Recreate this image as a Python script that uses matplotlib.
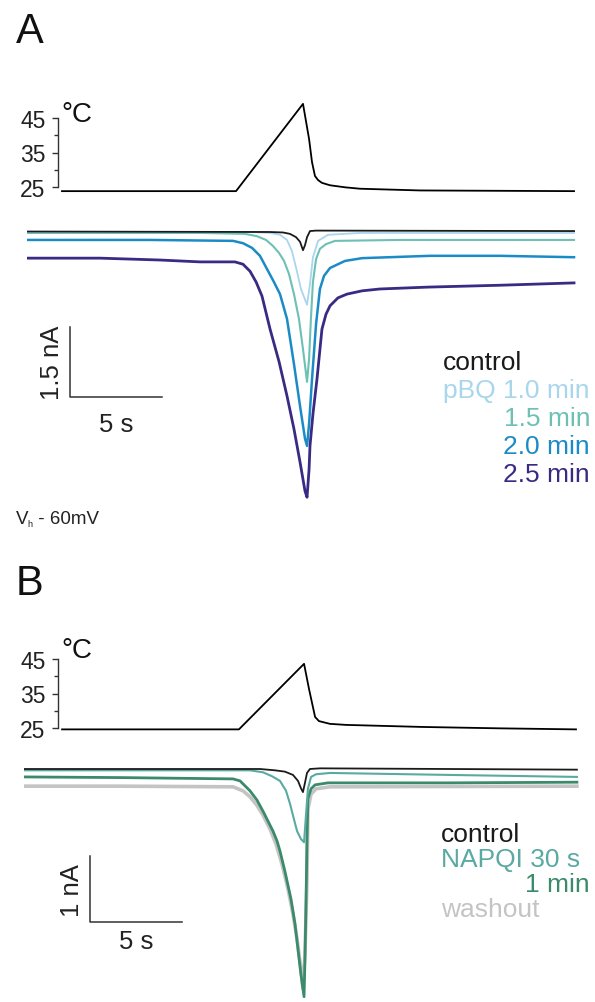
import matplotlib.pyplot as plt

plt.rcParams['font.family'] = ['Liberation Sans', 'DejaVu Sans']

W, H = 595, 1003

# ---- panel A data (time in s, temperature in degC, current in nA) ----
tempA_t = [1.90, 11.36, 15.00, 15.33, 15.49, 15.65, 15.82, 16.03, 16.47, 17.30, 18.10, 21.36, 29.73]
tempA_T = [23.8, 23.8, 49.1, 38.9, 32.2, 28.2, 27.0, 26.2, 25.5, 24.9, 24.5, 24.0, 23.8]

ctrlA_t = [0, 13.21, 13.91, 14.29, 14.62, 14.84, 15.00, 15.11, 15.22, 15.38, 15.71, 29.73]
ctrlA_i = [0.01, 0, -0.01, -0.04, -0.11, -0.21, -0.39, -0.28, -0.11, 0.02, 0.03, 0.02]

pbq10_t = [0, 12.12, 13.21, 13.75, 14.13, 14.40, 14.67, 14.89, 15.22, 15.38, 15.54, 15.82, 16.36, 18.10, 29.73]
pbq10_i = [0, 0, -0.02, -0.06, -0.17, -0.41, -0.84, -1.22, -1.56, -1.11, -0.54, -0.19, -0.06, -0.02, -0.02]

pbq15_t = [0, 9.40, 11.85, 12.50, 12.99, 13.37, 13.70, 13.97, 14.24, 14.51, 14.78, 15.00, 15.22,
           15.33, 15.43, 15.54, 15.71, 15.92, 16.25, 16.74, 20.27, 29.73]
pbq15_i = [-0.02, -0.02, -0.04, -0.09, -0.17, -0.30, -0.45, -0.62, -0.90, -1.33, -1.86, -2.51, -3.21,
           -2.72, -1.86, -1.07, -0.58, -0.36, -0.26, -0.19, -0.17, -0.17]

pbq20_t = [0, 6.68, 11.20, 11.74, 12.23, 12.66, 13.04, 13.42, 13.75, 14.13, 14.51, 14.84, 15.11, 15.22,
           15.33, 15.49, 15.71, 15.92, 16.14, 16.47, 17.28, 18.21, 21.90, 25.71, 29.73]
pbq20_i = [-0.17, -0.17, -0.19, -0.24, -0.34, -0.51, -0.79, -1.07, -1.33, -1.86, -2.83, -3.73, -4.43, -4.58,
           -4.11, -3.15, -1.97, -1.22, -0.94, -0.77, -0.62, -0.56, -0.51, -0.51, -0.54]

pbq25_t = [0, 3.97, 7.23, 9.40, 11.30, 11.74, 12.12, 12.45, 12.77, 13.21, 13.70, 14.13, 14.51, 14.84, 15.11,
           15.22, 15.33, 15.38, 15.54, 15.76, 16.03, 16.25, 16.47, 16.90, 17.39, 18.21, 19.18, 21.79, 25.71, 29.73]
pbq25_i = [-0.56, -0.56, -0.60, -0.64, -0.64, -0.69, -0.84, -1.07, -1.37, -2.08, -2.78, -3.51, -4.22, -4.93, -5.55,
           -5.68, -5.08, -4.58, -3.90, -3.15, -2.08, -1.76, -1.58, -1.41, -1.33, -1.26, -1.22, -1.18, -1.14, -1.09]

labelsA = ['control', 'pBQ 1.0 min', '1.5 min', '2.0 min', '2.5 min']
colorsA = ['#1a1a1a', '#a8d6ec', '#6cc0b4', '#1b8bc6', '#3a2a84']

# ---- panel B data ----
tempB_t = [2.07, 11.68, 15.22, 15.49, 15.82, 16.03, 16.63, 17.50, 21.68, 25.87, 30.00]
tempB_T = [24.6, 24.6, 43.6, 36.3, 28.2, 27.0, 26.2, 25.9, 25.3, 24.9, 24.6]

ctrlB_t = [0, 12.83, 13.64, 14.18, 14.62, 14.89, 15.05, 15.16, 15.27, 15.38, 15.54, 16.09, 30.05]
ctrlB_i = [0, 0, -0.02, -0.04, -0.09, -0.18, -0.29, -0.35, -0.21, -0.06, 0, 0.01, -0.01]

napqi30_t = [0, 12.28, 12.99, 13.48, 13.91, 14.24, 14.46, 14.67, 14.84, 15.05, 15.22, 15.33, 15.43,
             15.60, 15.87, 16.63, 23.15, 30.05]
napqi30_i = [-0.02, -0.02, -0.05, -0.11, -0.18, -0.33, -0.53, -0.76, -0.94, -1.06, -1.11, -0.68, -0.30,
             -0.12, -0.08, -0.06, -0.09, -0.12]

napqi1_t = [0, 5.22, 11.36, 11.74, 12.28, 12.66, 12.99, 13.26, 13.53, 13.75, 13.91, 14.18, 14.51, 14.73,
            14.89, 15.05, 15.22, 15.27, 15.33, 15.38, 15.43, 15.60, 15.82, 16.52, 23.15, 30.05]
napqi1_i = [-0.12, -0.13, -0.15, -0.18, -0.33, -0.47, -0.64, -0.79, -0.94, -1.09, -1.24, -1.55, -1.97, -2.35,
            -2.73, -3.11, -3.45, -2.88, -1.97, -1.06, -0.45, -0.30, -0.24, -0.21, -0.21, -0.20]

wash_t = [0, 5.22, 11.36, 11.90, 12.28, 12.66, 12.99, 13.37, 13.70, 14.02, 14.35, 14.62, 14.84, 15.05,
          15.16, 15.27, 15.38, 15.43, 15.60, 15.87, 16.63, 30.05]
wash_i = [-0.26, -0.26, -0.27, -0.33, -0.42, -0.55, -0.70, -0.91, -1.14, -1.44, -1.82, -2.20, -2.58, -3.03,
          -3.33, -2.80, -1.67, -0.61, -0.38, -0.30, -0.27, -0.26]

labelsB = ['control', 'NAPQI 30 s', '1 min', 'washout']
colorsB = ['#1a1a1a', '#5aaaa2', '#3b8a6c', '#c4c4c4']


def frac(x0, y0, x1, y1):
    # pixel box (top-left origin) -> figure fraction rect
    return [x0 / W, 1 - y1 / H, (x1 - x0) / W, (y1 - y0) / H]


def ftext(x, y, s, **kw):
    fig.text(x / W, 1 - y / H, s, **kw)


def temp_axis(ax, spine_t):
    for s in ['top', 'right', 'bottom']:
        ax.spines[s].set_visible(False)
    ax.spines['left'].set_position(('data', spine_t))
    ax.spines['left'].set_bounds(25, 45)
    ax.spines['left'].set_linewidth(1.0)
    ax.spines['left'].set_color('#333333')
    ax.set_yticks([25, 35, 45])
    ax.set_yticks([30, 40], minor=True)
    ax.tick_params(axis='y', which='major', length=4, width=1.0, colors='#333333',
                   labelsize=16.5, labelcolor='#222222', pad=5)
    ax.tick_params(axis='y', which='minor', length=3, width=1.0, colors='#333333')
    ax.set_xticks([])
    ax.patch.set_visible(False)


fig = plt.figure(figsize=(W / 100, H / 100), dpi=100)

# ---------------- panel A ----------------
tA = fig.add_axes(frac(27, 95, 595, 200))
tA.plot(tempA_t, tempA_T, color='black', lw=1.3)
tA.set_xlim(0, (595 - 27) / 18.4)
tA.set_ylim(25 - 12 / 3.45, 25 + 93 / 3.45)
temp_axis(tA, 1.68)

iA = fig.add_axes(frac(27, 215, 595, 510))
iA.set_xlim(0, (595 - 27) / 18.4)
iA.set_ylim(-277 / 46.7, 18 / 46.7)
iA.set_axis_off()
tracesA = [(ctrlA_t, ctrlA_i), (pbq10_t, pbq10_i), (pbq15_t, pbq15_i), (pbq20_t, pbq20_i), (pbq25_t, pbq25_i)]
widthsA = [1.3, 1.3, 1.5, 1.8, 2.0]
for k in [4, 3, 2, 1, 0]:
    iA.plot(tracesA[k][0], tracesA[k][1], color=colorsA[k], lw=widthsA[k], solid_joinstyle='round')

# scale bar 5 s / 1.5 nA
iA.plot([2.34, 2.34, 7.34], [-2.03, -3.53, -3.53], color='#333333', lw=1.1, clip_on=False)
iA.text(4.84, -4.11, '5 s', ha='center', va='center', fontsize=18.5, color='#222222')
iA.text(1.36, -2.78, '1.5 nA', ha='center', va='center', rotation=90, fontsize=18.5, color='#222222')

ftext(16, 43, 'A', fontsize=30, va='baseline', color='#111111')
ftext(61, 122, '°C', fontsize=20, va='baseline', color='#111111')
ftext(443, 363, labelsA[0], fontsize=19, va='center', ha='left', color=colorsA[0])
ftext(443, 391, labelsA[1], fontsize=19, va='center', ha='left', color=colorsA[1])
ftext(590, 419, labelsA[2], fontsize=19, va='center', ha='right', color=colorsA[2])
ftext(590, 447, labelsA[3], fontsize=19, va='center', ha='right', color=colorsA[3])
ftext(590, 475, labelsA[4], fontsize=19, va='center', ha='right', color=colorsA[4])

ftext(16, 524, 'V', fontsize=13.5, va='baseline', color='#222222')
ftext(27, 527, 'h', fontsize=6.5, va='baseline', color='#222222')
ftext(33, 524, ' - 60mV', fontsize=13.5, va='baseline', color='#222222')

# ---------------- panel B ----------------
tB = fig.add_axes(frac(24, 640, 595, 740))
tB.plot(tempB_t, tempB_T, color='black', lw=1.3)
tB.set_xlim(0, (595 - 24) / 18.4)
tB.set_ylim(25 - 11 / 3.45, 25 + 89 / 3.45)
temp_axis(tB, 1.85)

iB = fig.add_axes(frac(24, 755, 595, 1003))
iB.set_xlim(0, (595 - 24) / 18.4)
iB.set_ylim(-233 / 66, 15 / 66)
iB.set_axis_off()
tracesB = [(ctrlB_t, ctrlB_i), (napqi30_t, napqi30_i), (napqi1_t, napqi1_i), (wash_t, wash_i)]
widthsB = [1.3, 1.5, 2.0, 2.6]
for k in [3, 2, 1, 0]:
    iB.plot(tracesB[k][0], tracesB[k][1], color=colorsB[k], lw=widthsB[k], solid_joinstyle='round')

# scale bar 5 s / 1 nA
iB.plot([3.59, 3.59, 8.59], [-1.32, -2.32, -2.32], color='#333333', lw=1.1, clip_on=False)
iB.text(6.09, -2.61, '5 s', ha='center', va='center', fontsize=18.5, color='#222222')
iB.text(2.61, -1.82, '1 nA', ha='center', va='center', rotation=90, fontsize=18.5, color='#222222')

ftext(16, 595, 'B', fontsize=30, va='baseline', color='#111111')
ftext(61, 658, '°C', fontsize=20, va='baseline', color='#111111')
ftext(441, 835, labelsB[0], fontsize=19, va='center', ha='left', color=colorsB[0])
ftext(441, 860, labelsB[1], fontsize=19, va='center', ha='left', color=colorsB[1])
ftext(590, 885, labelsB[2], fontsize=19, va='center', ha='right', color=colorsB[2])
ftext(441, 910, labelsB[3], fontsize=19, va='center', ha='left', color=colorsB[3])

fig.savefig('out.png', dpi=100)
